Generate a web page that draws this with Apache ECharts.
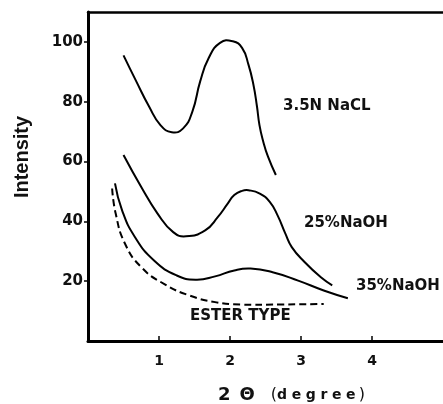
<!DOCTYPE html>
<html>
<head>
<meta charset="utf-8">
<script src="https://cdn.jsdelivr.net/npm/echarts@6/dist/echarts.min.js"></script>
<style>
  html, body { margin: 0; padding: 0; background: #fff; }
  #chart { width: 443px; height: 404px; }
</style>
</head>
<body>
<div id="chart"></div>
<script>
// X-ray diffraction intensity versus 2θ for several treatments
const xTicks = [1, 2, 3, 4];
const yTicks = [20, 40, 60, 80, 100];

const naclX = [0.50, 0.68, 0.86, 1.02, 1.18, 1.34, 1.47, 1.58, 1.70, 1.86, 2.04, 2.17, 2.26, 2.33, 2.38, 2.415, 2.466, 2.534, 2.646];
const naclY = [95.5, 86.8, 78.4, 72.2, 69.8, 71.1, 76.7, 86.8, 94.6, 99.7, 100.2, 98.0, 92.4, 85.7, 78.4, 72.2, 66.9, 61.7, 55.5];

const naoh25X = [0.50, 0.75, 0.98, 1.20, 1.38, 1.65, 1.83, 1.97, 2.06, 2.17, 2.26, 2.42, 2.56, 2.67, 2.78, 2.87, 3.05, 3.28, 3.44];
const naoh25Y = [62.2, 51.5, 42.6, 36.4, 35.0, 37.0, 41.5, 46.0, 48.8, 50.2, 50.4, 49.3, 46.5, 42.0, 35.9, 31.4, 26.4, 21.3, 18.6];

const naoh35X = [0.38, 0.48, 0.66, 0.93, 1.25, 1.52, 1.79, 2.06, 2.29, 2.60, 2.96, 3.32, 3.66];
const naoh35Y = [52.7, 43.7, 34.8, 26.9, 21.9, 20.5, 21.6, 23.6, 24.2, 23.0, 20.2, 16.9, 14.3];

const esterX = [0.34, 0.39, 0.52, 0.75, 1.07, 1.43, 1.79, 2.15, 2.69, 3.32];
const esterY = [51.0, 42.6, 32.6, 24.7, 19.1, 15.2, 13.0, 12.2, 12.2, 12.4];

const pairs = (xs, ys) => xs.map((x, i) => [x, ys[i]]);

const tickFont = {
  color: '#111',
  fontFamily: 'DejaVu Sans',
  fontWeight: 'bold',
  fontSize: 15
};

const labelFont = 'bold 15px "DejaVu Sans"';

// Each curve is one smooth polyline through its points, placed by the axes' scales
function curve(name, xs, ys, dashed) {
  const data = pairs(xs, ys);
  return {
    name: name,
    type: 'custom',
    coordinateSystem: 'cartesian2d',
    silent: true,
    data: data,
    encode: { x: 0, y: 1 },
    renderItem: function (params, api) {
      if (params.dataIndex !== 0) return null;
      return {
        type: 'polyline',
        shape: { points: data.map(p => api.coord(p)), smooth: 0.5 },
        style: {
          fill: null,
          stroke: '#000',
          lineWidth: 2,
          lineDash: dashed ? [7, 4] : null
        }
      };
    }
  };
}

const chart = echarts.init(document.getElementById('chart'), null, { renderer: 'canvas' });
chart.setOption({
  backgroundColor: '#fff',
  animation: false,
  grid: { left: 88, top: 12, bottom: 63, right: -14 },
  xAxis: [{
    type: 'value',
    min: 0, max: 5, interval: 1,
    axisLine: { show: true, lineStyle: { color: '#000', width: 3 } },
    axisTick: { show: true, inside: true, length: 5, customValues: xTicks, lineStyle: { color: '#000', width: 1.5 } },
    axisLabel: { customValues: xTicks, margin: 13, ...tickFont, fontSize: 14 },
    splitLine: { show: false }
  }, {
    type: 'value',
    position: 'top',
    min: 0, max: 5,
    axisLine: { show: true, lineStyle: { color: '#000', width: 2.5 } },
    axisTick: { show: false },
    axisLabel: { show: false },
    splitLine: { show: false }
  }],
  yAxis: {
    type: 'value',
    min: 0, max: 110, interval: 10,
    axisLine: { show: true, lineStyle: { color: '#000', width: 3 } },
    axisTick: { show: true, inside: false, length: 4, customValues: yTicks, lineStyle: { color: '#000', width: 1.5 } },
    axisLabel: { customValues: yTicks, margin: 5, ...tickFont },
    splitLine: { show: false }
  },
  series: [
    curve('3.5N NaCL', naclX, naclY, false),
    curve('25%NaOH', naoh25X, naoh25Y, false),
    curve('35%NaOH', naoh35X, naoh35Y, false),
    curve('ESTER TYPE', esterX, esterY, true)
  ],
  graphic: [
    { type: 'text', left: 283, top: 99, style: { text: '3.5N NaCL', font: labelFont, fill: '#111' } },
    { type: 'text', left: 304, top: 216, style: { text: '25%NaOH', font: labelFont, fill: '#111' } },
    { type: 'text', left: 356, top: 279, style: { text: '35%NaOH', font: labelFont, fill: '#111' } },
    { type: 'text', left: 190, top: 309, style: { text: 'ESTER TYPE', font: labelFont, fill: '#111' } },
    {
      type: 'text', x: 22, y: 157, rotation: Math.PI / 2,
      style: { text: 'Intensity', font: 'bold 20px "Liberation Sans"', fill: '#111', align: 'center', verticalAlign: 'middle' }
    },
    {
      type: 'text', left: 218, top: 386,
      style: {
        text: '{big|2\u2002\u0398}{par|\u2002\u2002(}{sm|d\u2004e\u2004g\u2004r\u2004e\u2004e}{par|\u2009)}',
        rich: {
          big: { font: 'bold 18px "DejaVu Sans"', fill: '#111' },
          par: { font: '16px "DejaVu Sans"', fill: '#111' },
          sm: { font: 'bold 14px "DejaVu Sans"', fill: '#111' }
        }
      }
    }
  ]
});
</script>
</body>
</html>
